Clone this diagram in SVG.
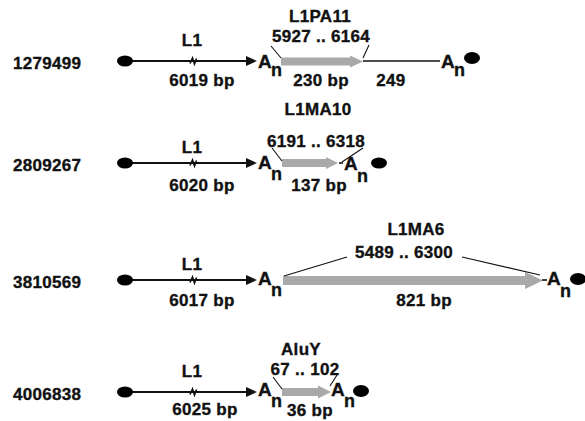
<svg xmlns="http://www.w3.org/2000/svg" width="585" height="421" viewBox="0 0 585 421">
  <style>
    text { font-family: "Liberation Sans", Arial, sans-serif; font-weight: bold; font-size: 17px; fill: #111; stroke: #111; stroke-width: 0.35; letter-spacing: 0.3px; }
    .mid { text-anchor: middle; }
    .big { font-size: 19px; letter-spacing: 0; }
    .sub { font-size: 18px; letter-spacing: 0; }
    .seq { stroke: #111; stroke-width: 2; fill: none; }
    .thin { stroke: #111; stroke-width: 1.1; fill: none; }
    .brk { stroke: #111; stroke-width: 1.6; fill: none; }
    .head { fill: #111; }
    .gray { fill: #a9a9a9; }
    .dot { fill: #000; }
  </style>
  <rect width="585" height="421" fill="#fff"/>

  <!-- lines, arrows and pointer ticks -->
  <g id="connectors">
    <!-- row 1 -->
    <path class="seq" d="M125,61 H248"/>
    <path class="brk" d="M190,63.5 L192.5,58 L194.5,64 L196.5,58.5"/>
    <polygon class="head" points="257,61 246,56 246,66"/>
    <polygon class="gray" points="281,57.5 350,57.5 350,55.5 363,61.5 350,67.5 350,65.5 281,65.5"/>
    <path class="seq" style="stroke-width:1.5" d="M363,61 H440"/>
    <path class="thin" d="M271,46 L281,58"/>
    <path class="thin" d="M369,45 L363,58"/>
    <!-- row 2 -->
    <path class="seq" d="M125,163 H248"/>
    <path class="brk" d="M190,165.5 L192.5,160 L194.5,166 L196.5,160.5"/>
    <polygon class="head" points="257,163 246,158 246,168"/>
    <polygon class="gray" points="282,159 326,159 326,157 338,163 326,169 326,167 282,167"/>
    <path class="thin" d="M272,148 L282,161"/>
    <path class="thin" d="M363,148 L342,162"/>
    <!-- row 3 -->
    <path class="seq" d="M125,280 H248"/>
    <path class="brk" d="M190,282.5 L192.5,277 L194.5,283 L196.5,277.5"/>
    <polygon class="head" points="257,280 246,275 246,285"/>
    <polygon class="gray" points="283,276 525,276 525,272 543,280.5 525,289 525,285 283,285"/>
    <path class="thin" d="M284,276 L347,257"/>
    <path class="thin" d="M462,257 L540,275"/>
    <!-- row 4 -->
    <path class="seq" d="M125,392 H248"/>
    <path class="brk" d="M190,394.5 L192.5,389 L194.5,395 L196.5,389.5"/>
    <polygon class="head" points="257,392 246,387 246,397"/>
    <polygon class="gray" points="282,388 318,388 318,385.5 331,392 318,398.5 318,396 282,396"/>
    <path class="thin" d="M273,377 L282,389"/>
    <path class="thin" d="M337,375 L330,386"/>
  </g>

  <!-- clone 1279499 -->
  <g id="row-1279499">
    <text x="13" y="69">1279499</text>
    <ellipse class="dot" cx="125" cy="61" rx="8" ry="5.5"/>
    <text class="mid" x="192" y="46">L1</text>
    <text class="mid" x="202" y="86">6019 bp</text>
    <text class="big" x="258" y="68">A</text><text class="sub" x="271" y="76">n</text>
    <text class="mid" x="320" y="22">L1PA11</text>
    <text class="mid" x="321" y="42">5927 .. 6164</text>
    <text class="mid" x="321" y="86">230 bp</text>
    <text class="mid" x="391" y="86">249</text>
    <text class="big" x="441" y="68">A</text><text class="sub" x="454" y="76">n</text>
    <ellipse class="dot" cx="472" cy="58" rx="8" ry="6"/>
  </g>

  <!-- clone 2809267 -->
  <g id="row-2809267">
    <text x="13" y="171">2809267</text>
    <ellipse class="dot" cx="125" cy="163" rx="8" ry="5.5"/>
    <text class="mid" x="192" y="153">L1</text>
    <text class="mid" x="202" y="191">6020 bp</text>
    <text class="big" x="258" y="169">A</text><text class="sub" x="271" y="180">n</text>
    <text class="mid" x="318" y="115">L1MA10</text>
    <text class="mid" x="316" y="147">6191 .. 6318</text>
    <text class="mid" x="319" y="191">137 bp</text>
    <path class="seq" style="stroke-width:1.6" d="M339,163 H343"/>
    <text class="big" x="344" y="170">A</text><text class="sub" x="357" y="182">n</text>
    <ellipse class="dot" cx="379" cy="163" rx="8" ry="5.5"/>
  </g>

  <!-- clone 3810569 -->
  <g id="row-3810569">
    <text x="13" y="288">3810569</text>
    <ellipse class="dot" cx="125" cy="280" rx="8" ry="5.5"/>
    <text class="mid" x="192" y="270">L1</text>
    <text class="mid" x="202" y="306">6017 bp</text>
    <text class="big" x="258" y="285">A</text><text class="sub" x="271" y="296">n</text>
    <text class="mid" x="416" y="235">L1MA6</text>
    <text class="mid" x="404" y="258">5489 .. 6300</text>
    <text class="mid" x="424" y="306">821 bp</text>
    <path class="seq" style="stroke-width:1.6" d="M542,280 H547"/>
    <text class="big" x="547" y="285">A</text><text class="sub" x="560" y="297">n</text>
    <ellipse class="dot" cx="578" cy="279" rx="8" ry="6"/>
  </g>

  <!-- clone 4006838 -->
  <g id="row-4006838">
    <text x="13" y="400">4006838</text>
    <ellipse class="dot" cx="125" cy="392" rx="8" ry="5.5"/>
    <text class="mid" x="192" y="377">L1</text>
    <text class="mid" x="205" y="415">6025 bp</text>
    <text class="big" x="258" y="396">A</text><text class="sub" x="271" y="407">n</text>
    <text class="mid" x="301" y="355">AluY</text>
    <text class="mid" x="305" y="375">67 .. 102</text>
    <text class="mid" x="310" y="416">36 bp</text>
    <text class="big" x="331" y="396">A</text><text class="sub" x="344" y="407">n</text>
    <ellipse class="dot" cx="361" cy="391" rx="8" ry="6"/>
  </g>
</svg>
